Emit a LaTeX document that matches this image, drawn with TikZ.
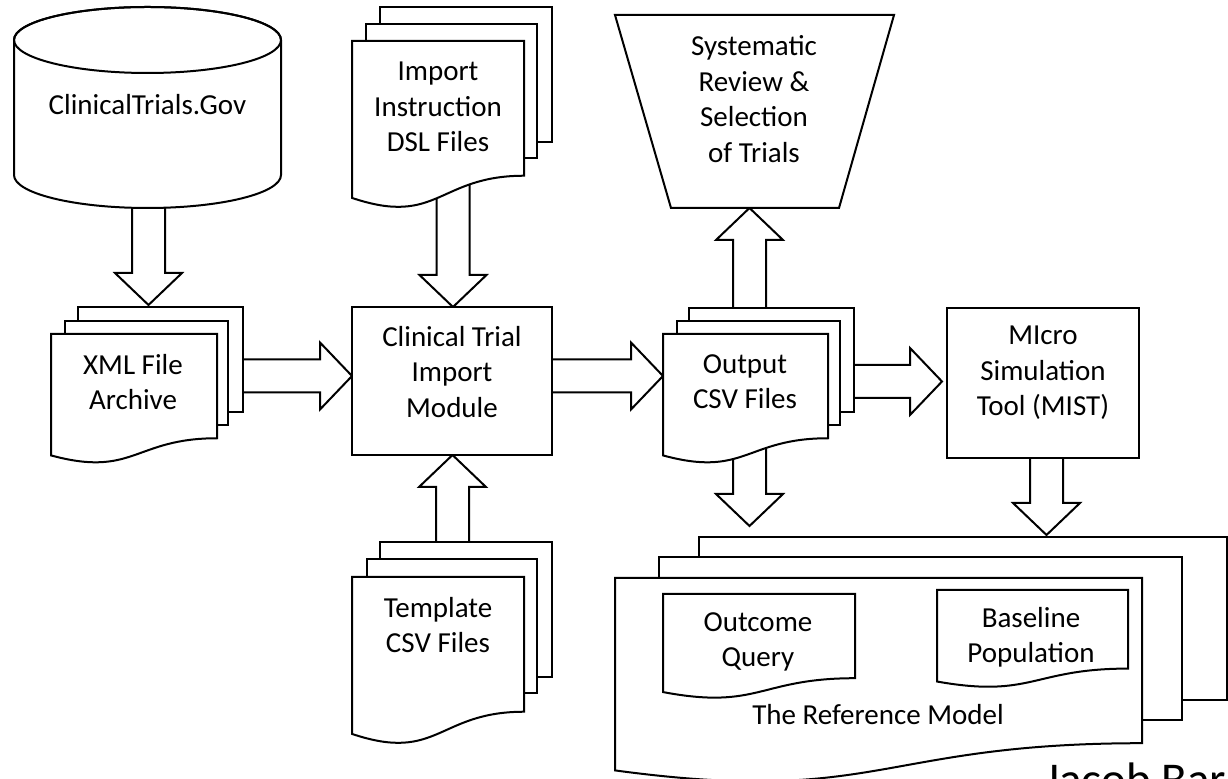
\documentclass[tikz,border=0pt]{standalone}
\usepackage{fontspec}
\setmainfont{Carlito}
\usetikzlibrary{calc}
\tikzset{
  shp/.style={draw=black, fill=white, line width=1pt, line join=miter},
  barrow/.style={draw=black, fill=white, line width=1pt, line join=miter},
  lbl/.style={align=center, inner sep=0pt, font=\fontsize{14.5}{17.7}\selectfont},
}
% document shape: top-left (x,y) in px, width, height
\newcommand\docpath[4]{%
  \draw[shp] (#1,#2) -- ({#1+#3},#2) -- ({#1+#3},{#2+0.802*#4})
    .. controls ({#1+0.5*#3},{#2+0.802*#4}) and ({#1+0.5*#3},{#2+1.107*#4}) ..
    (#1,{#2+0.934*#4}) -- cycle;}
\newcommand\pagerect[4]{\draw[shp] (#1,#2) rectangle (#3,#4);}
% block arrow from named start to named tip
\newcommand\blockarrow[2]{%
  \coordinate (ba-h) at ($(#2)!16pt!(#1)$);
  \draw[barrow] ($(#1)!8.25pt!90:(#2)$) -- ($(ba-h)!8.25pt!90:(#2)$)
    -- ($(ba-h)!16.75pt!90:(#2)$) -- (#2) -- ($(ba-h)!16.75pt!-90:(#2)$)
    -- ($(ba-h)!8.25pt!-90:(#2)$) -- ($(#1)!8.25pt!-90:(#2)$) -- cycle;}
\begin{document}
\begin{tikzpicture}[x=0.5pt, y=-0.5pt]
\useasboundingbox (0,0) rectangle (1228,779);
\clip (0,0) rectangle (1228,779);
\fill[white] (0,0) rectangle (1228,779);
% arrow end points
\coordinate (a1s) at (148.5,190);  \coordinate (a1t) at (148.5,305);
\coordinate (a2s) at (453,170);    \coordinate (a2t) at (453,307);
\coordinate (a3s) at (452.5,560);  \coordinate (a3t) at (452.5,455);
\coordinate (a4s) at (230,376);    \coordinate (a4t) at (352,376);
\coordinate (a5s) at (540,376);    \coordinate (a5t) at (663,376);
\coordinate (a6s) at (840,381.5);  \coordinate (a6t) at (942,381.5);
\coordinate (a7s) at (749.5,320);  \coordinate (a7t) at (749.5,208);
\coordinate (a8s) at (749.5,440);  \coordinate (a8t) at (749.5,526);
\coordinate (a9s) at (1046.5,450); \coordinate (a9t) at (1046.5,535);
\blockarrow{a1s}{a1t}
\blockarrow{a2s}{a2t}
\blockarrow{a3s}{a3t}
\blockarrow{a4s}{a4t}
\blockarrow{a5s}{a5t}
\blockarrow{a6s}{a6t}
\blockarrow{a7s}{a7t}
\blockarrow{a8s}{a8t}
\blockarrow{a9s}{a9t}
% ClinicalTrials.Gov cylinder
\draw[shp] (14,40) -- (14,175) arc[start angle=180, end angle=360, x radius=66.75pt, y radius=16.5pt]
  -- (281,40) arc[start angle=0, end angle=180, x radius=66.75pt, y radius=16.5pt] -- cycle;
\draw[shp, fill=none] (147.5,40) ellipse[x radius=66.75pt, y radius=16.5pt];
% Import Instruction DSL Files
\pagerect{380}{7}{552}{142}
\pagerect{366}{24}{537}{158}
\docpath{352}{41}{172}{168}
% XML File Archive
\pagerect{78}{307}{243}{412}
\pagerect{65}{321}{228}{425}
\docpath{51}{334}{166}{130}
% Clinical Trial Import Module
\draw[shp] (352,307) rectangle (552,455);
% Systematic review trapezoid
\draw[shp] (615,15) -- (894,15) -- (839,208) -- (671,208) -- cycle;
% Output CSV Files
\pagerect{689}{308}{854}{412}
\pagerect{677}{321}{840}{425}
\docpath{663}{334}{165}{130}
% MIST
\draw[shp] (947,308) rectangle (1139,458);
% Template CSV Files
\pagerect{380}{542}{552}{677}
\pagerect{367}{559}{537}{693}
\docpath{352}{577}{172}{168}
% The Reference Model
\pagerect{699}{537}{1227}{700}
\pagerect{659}{557}{1182}{720}
\docpath{615}{578}{527}{206}
\docpath{663}{594}{192}{105}
\docpath{937}{590}{191}{98}
% labels
\node[lbl] (ctg) at (147.5,105) {ClinicalTrials.Gov};
\node[lbl] (dsl) at (438,107) {Import\\Instruction\\DSL Files};
\node[lbl] (xml) at (133,382) {XML File\\Archive};
\node[lbl] (ctim) at (452,372) {Clinical Trial\\Import\\Module};
\node[lbl] (sys) at (754,99) {Systematic\\Review \&\\Selection\\of Trials};
\node[lbl] (out) at (745,382) {Output\\CSV Files};
\node[lbl] (mist) at (1043,373) {MIcro\\Simulation\\Tool (MIST)};
\node[lbl] (tpl) at (438,625) {Template\\CSV Files};
\node[lbl] (oq) at (758,642) {Outcome\\Query};
\node[lbl] (bp) at (1031,637) {Baseline\\Population};
\node[lbl] (refm) at (878,715) {The Reference Model};
\node[anchor=base west, inner sep=0pt, font=\fontsize{23.5}{28}\selectfont] (author) at (1044,796) {Jacob Barhak};
\end{tikzpicture}
\end{document}
